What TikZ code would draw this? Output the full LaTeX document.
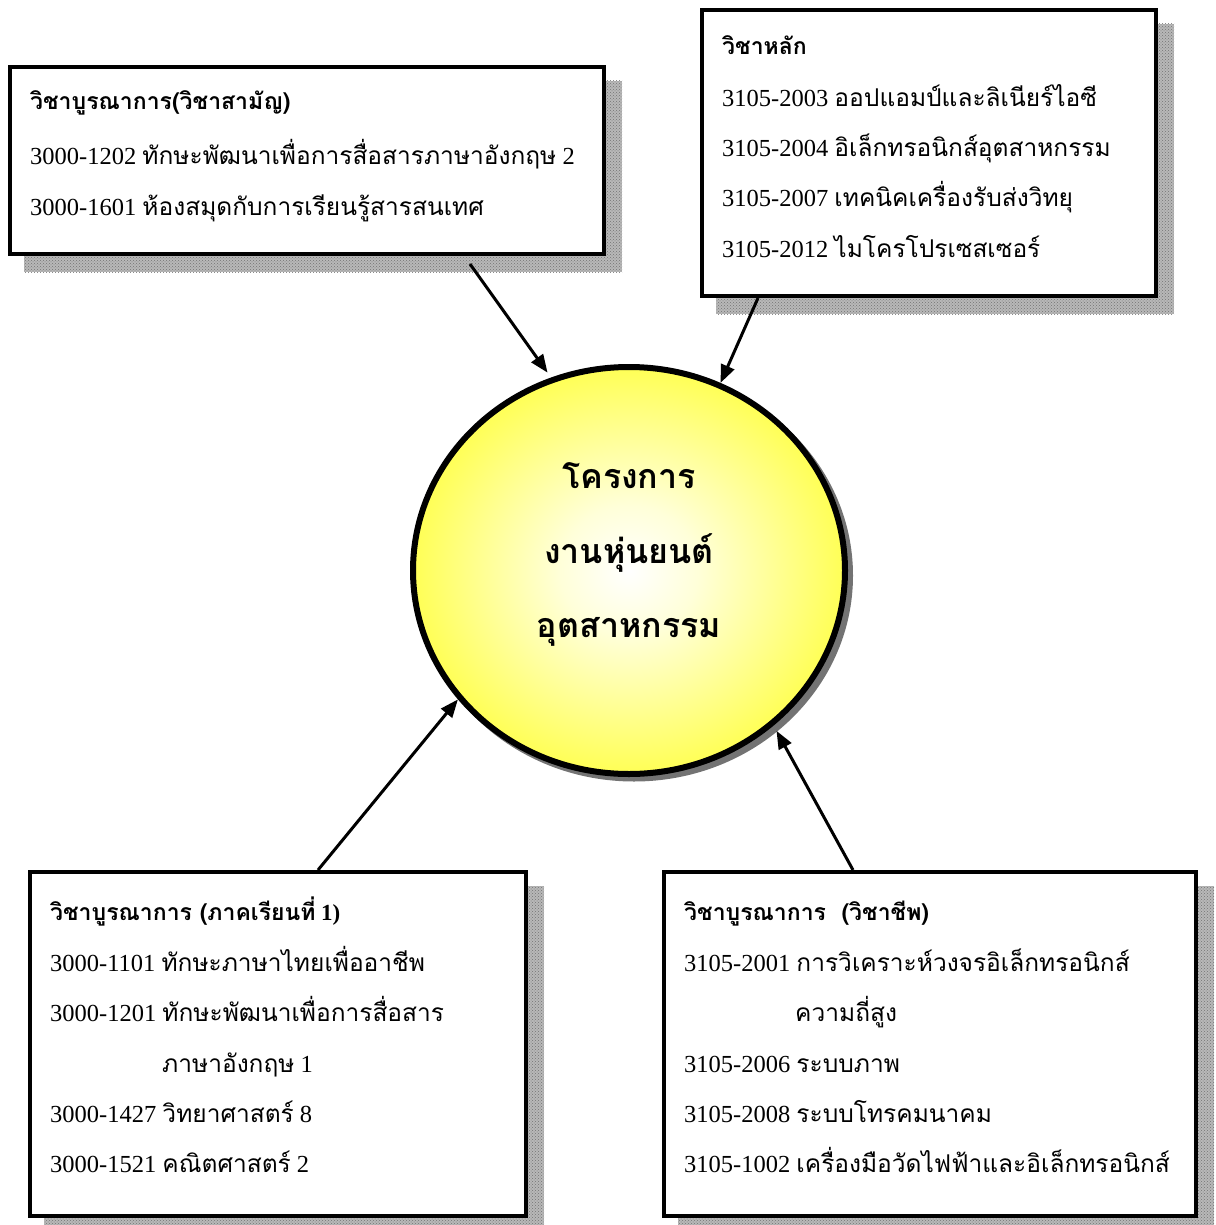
\documentclass[tikz,border=0pt]{standalone}
\usepackage{fontspec}
\setmainfont{Liberation Serif}
\newfontfamily\thaifont[Script=Thai]{Loma}
\usetikzlibrary{arrows.meta,patterns,backgrounds,shapes.geometric}
\newcommand\thtxt[1]{{\thaifont #1}}
\pgfdeclareradialshading{glow}{\pgfpoint{0bp}{0bp}}{color(0bp)=(white); color(8bp)=(white!85!yellow); color(36bp)=(yellow); color(50bp)=(yellow)}
\begin{document}
\begin{tikzpicture}[x=1pt,y=-1pt,
  box/.style={draw, line width=4pt, fill=white, rectangle, inner sep=0pt},
  shade box/.style={fill=black!28, postaction={pattern=crosshatch dots, pattern color=black!55}},
  ln/.style={anchor=base west, inner sep=0pt, font=\fontsize{24.5}{24.5}\selectfont},
  hd/.style={anchor=base west, inner sep=0pt, font=\fontsize{23}{23}\selectfont\bfseries},
  ctext/.style={anchor=base, inner sep=0pt, font=\fontsize{34}{34}\selectfont\bfseries\thaifont},
  arr/.style={line width=3pt, -{Triangle[length=18pt,width=14pt]}}]
\useasboundingbox (0,0) rectangle (1215,1225);
% boxes
\node[box, minimum width=594pt, minimum height=187pt] (b1) at (307,160.5) {};
\node[box, minimum width=454pt, minimum height=286pt] (b2) at (929,153) {};
\node[box, minimum width=496pt, minimum height=344pt] (b3) at (278,1044) {};
\node[box, minimum width=532pt, minimum height=344pt] (b4) at (930,1044) {};
% circle
\node[ellipse, draw, line width=6pt, minimum width=432pt, minimum height=407pt, inner sep=0pt, shading=glow] (c) at (629,570.5) {};
\begin{scope}[on background layer]
  \fill[white] (0,0) rectangle (1215,1225);
  \foreach \b in {b1,b2,b3,b4}
    \path[shade box] ([shift={(16,16)}]\b.north west) rectangle ([shift={(16,16)}]\b.south east);
  \fill[black!55] (634,575.5) ellipse [x radius=219pt, y radius=206pt];
\end{scope}
% box 1 text
\node[hd] (t1h) at (30,110) {\thtxt{วิชาบูรณาการ(วิชาสามัญ)}};
\node[ln] (t1a) at (30,165) {3000-1202 \thtxt{ทักษะพัฒนาเพื่อการสื่อสารภาษาอังกฤษ} 2};
\node[ln] (t1b) at (30,215) {3000-1601 \thtxt{ห้องสมุดกับการเรียนรู้สารสนเทศ}};
% box 2 text
\node[hd] (t2h) at (722,55) {\thtxt{วิชาหลัก}};
\node[ln] (t2a) at (722,107) {3105-2003 \thtxt{ออปแอมป์และลิเนียร์ไอซี}};
\node[ln] (t2b) at (722,157) {3105-2004 \thtxt{อิเล็กทรอนิกส์อุตสาหกรรม}};
\node[ln] (t2c) at (722,207) {3105-2007 \thtxt{เทคนิคเครื่องรับส่งวิทยุ}};
\node[ln] (t2d) at (722,257) {3105-2012 \thtxt{ไมโครโปรเซสเซอร์}};
% box 3 text
\node[hd] (t3h) at (50,920) {\thtxt{วิชาบูรณาการ (ภาคเรียนที่} 1)};
\node[ln] (t3a) at (50,971) {3000-1101 \thtxt{ทักษะภาษาไทยเพื่ออาชีพ}};
\node[ln] (t3b) at (50,1021) {3000-1201 \thtxt{ทักษะพัฒนาเพื่อการสื่อสาร}};
\node[ln] (t3c) at (162,1072) {\thtxt{ภาษาอังกฤษ} 1};
\node[ln] (t3d) at (50,1122) {3000-1427 \thtxt{วิทยาศาสตร์} 8};
\node[ln] (t3e) at (50,1172) {3000-1521 \thtxt{คณิตศาสตร์} 2};
% box 4 text
\node[hd] (t4h) at (684,920) {\thtxt{วิชาบูรณาการ~~(วิชาชีพ)}};
\node[ln] (t4a) at (684,971) {3105-2001 \thtxt{การวิเคราะห์วงจรอิเล็กทรอนิกส์}};
\node[ln] (t4b) at (795,1021) {\thtxt{ความถี่สูง}};
\node[ln] (t4c) at (684,1072) {3105-2006 \thtxt{ระบบภาพ}};
\node[ln] (t4d) at (684,1122) {3105-2008 \thtxt{ระบบโทรคมนาคม}};
\node[ln] (t4e) at (684,1172) {3105-1002 \thtxt{เครื่องมือวัดไฟฟ้าและอิเล็กทรอนิกส์}};
% centre text
\node[ctext] (c1) at (629,488) {โครงการ};
\node[ctext] (c2) at (629,563) {งานหุ่นยนต์};
\node[ctext] (c3) at (629,637) {อุตสาหกรรม};
% arrows
\draw[arr, shorten >=6pt] ([xshift=163pt,yshift=-8pt]b1.south) -- (c.112.5);
\draw[arr] ([xshift=-171pt]b2.south) -- (c.64.1);
\draw[arr] ([xshift=40pt]b3.north) -- (c.217.5);
\draw[arr, shorten >=6pt] ([xshift=-77pt]b4.north) -- (c.313.7);
\end{tikzpicture}
\end{document}
